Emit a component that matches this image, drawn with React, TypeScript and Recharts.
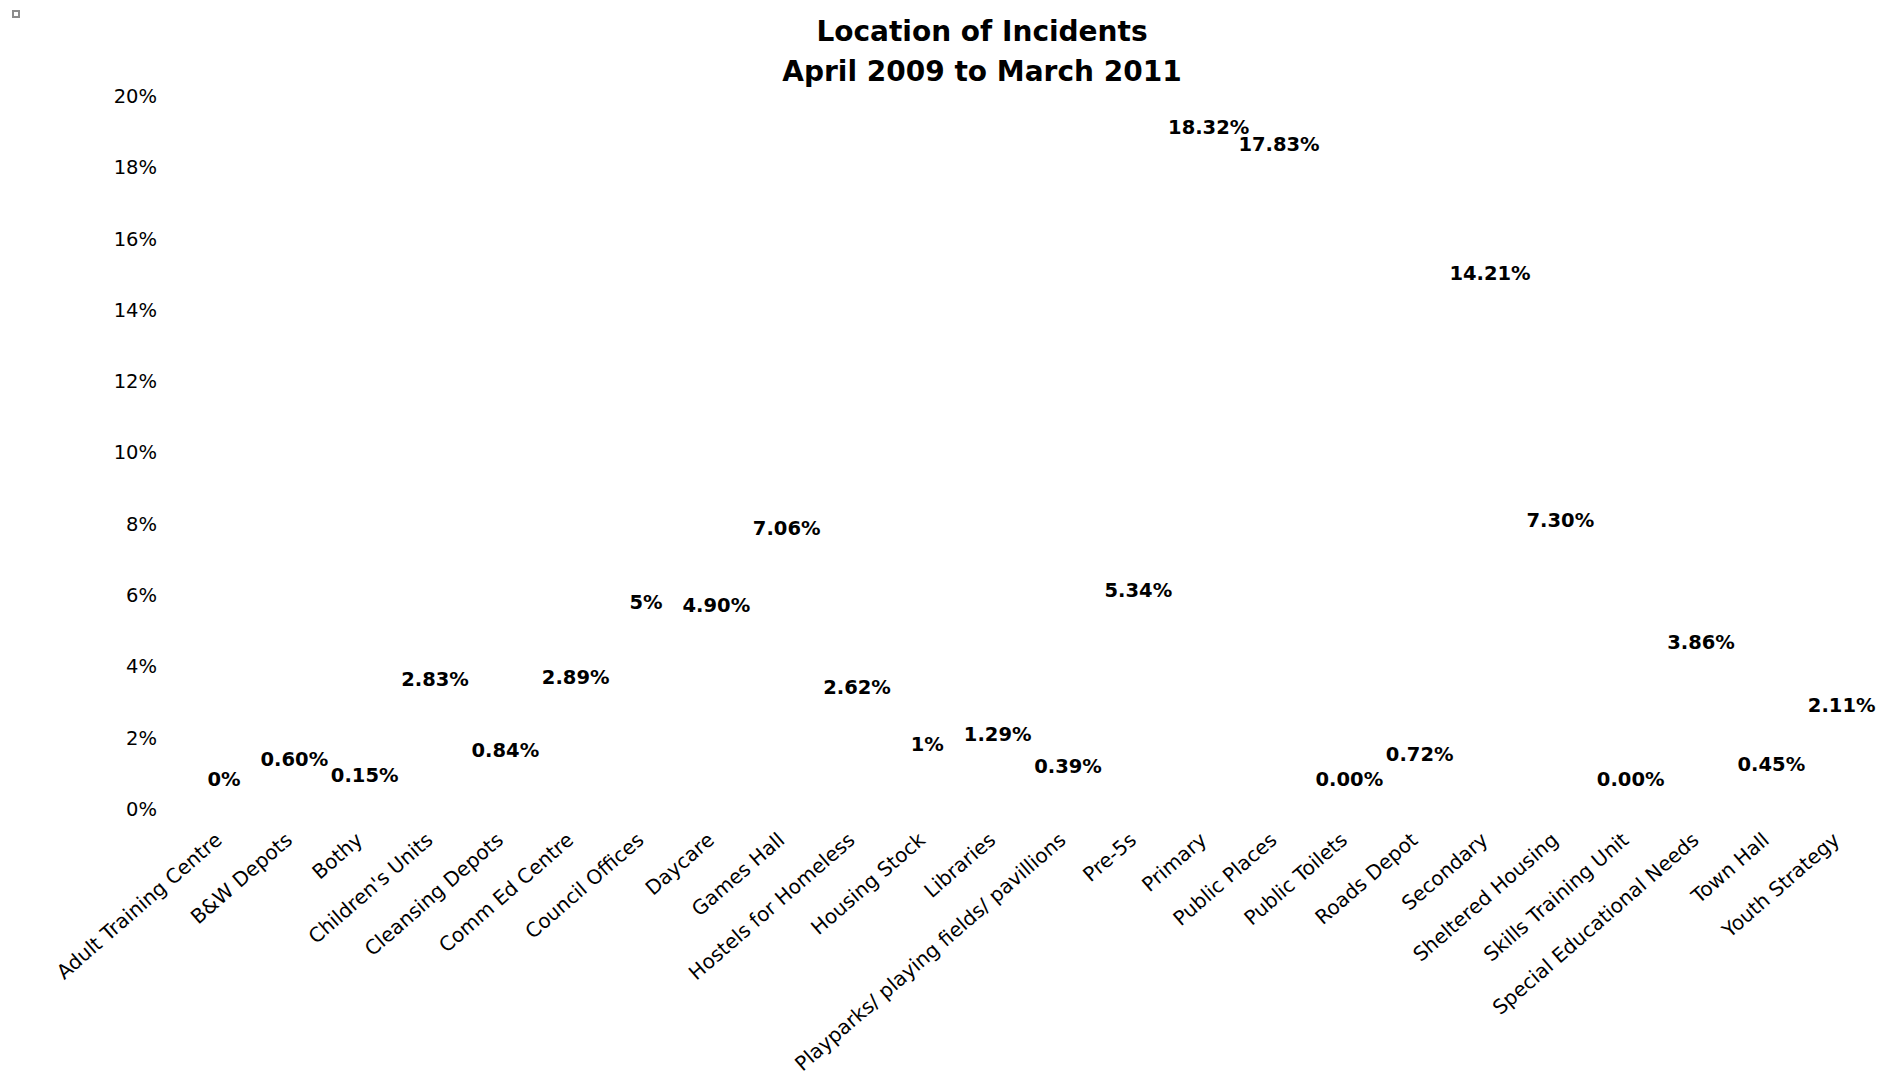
import React from "react"
import { BarChart, Bar, XAxis, YAxis, LabelList } from "recharts"

const categories = [
  "Adult Training Centre",
  "B&W Depots",
  "Bothy",
  "Children's Units",
  "Cleansing Depots",
  "Comm Ed Centre",
  "Council Offices",
  "Daycare",
  "Games Hall",
  "Hostels for Homeless",
  "Housing Stock",
  "Libraries",
  "Playparks/ playing fields/ pavillions",
  "Pre-5s",
  "Primary",
  "Public Places",
  "Public Toilets",
  "Roads Depot",
  "Secondary",
  "Sheltered Housing",
  "Skills Training Unit",
  "Special Educational  Needs",
  "Town Hall",
  "Youth Strategy",
]

// percent of incidents per location
const values = [
  0, 0.6, 0.15, 2.83, 0.84, 2.89, 5, 4.9, 7.06, 2.62, 1, 1.29, 0.39, 5.34, 18.32, 17.83, 0, 0.72, 14.21, 7.3, 0, 3.86,
  0.45, 2.11,
]

const valueLabels = [
  "0%", "0.60%", "0.15%", "2.83%", "0.84%", "2.89%", "5%", "4.90%", "7.06%", "2.62%", "1%", "1.29%", "0.39%",
  "5.34%", "18.32%", "17.83%", "0.00%", "0.72%", "14.21%", "7.30%", "0.00%", "3.86%", "0.45%", "2.11%",
]

const yTicks = [0, 2, 4, 6, 8, 10, 12, 14, 16, 18, 20]

const font = "'DejaVu Sans', sans-serif"

const data = categories.map((name, i) => ({ name, value: values[i], label: valueLabels[i] }))

function CategoryTick(props: any) {
  const { x, y, payload } = props
  return (
    <g transform={`translate(${x - 1},${y + 33})`}>
      <text x={0} y={0} textAnchor="end" transform="rotate(-41)" fill="#000" fontSize={20} fontFamily={font}>
        {payload.value}
      </text>
    </g>
  )
}

export default function App() {
  return (
    <div style={{ position: "absolute", left: 0, top: 0, width: 1897, height: 1074, background: "#fff" }}>
      <div
        style={{
          position: "absolute",
          left: 12,
          top: 10,
          width: 4,
          height: 4,
          border: "2px solid #8c8c8c",
          background: "#fff",
        }}
      />
      <div
        style={{
          position: "absolute",
          left: 482,
          top: 12,
          width: 1000,
          textAlign: "center",
          fontFamily: font,
          fontWeight: "bold",
          fontSize: 28,
          lineHeight: "40px",
          color: "#000",
        }}
      >
        <div>Location of Incidents</div>
        <div>April 2009 to March 2011</div>
      </div>
      <BarChart width={1897} height={1074} data={data} margin={{ top: 96, right: 20, bottom: 0, left: 89 }}>
        <XAxis
          dataKey="name"
          interval={0}
          axisLine={false}
          tickLine={false}
          tickSize={0}
          tickMargin={0}
          height={265}
          tick={<CategoryTick />}
        />
        <YAxis
          width={100}
          domain={[0, 20]}
          ticks={yTicks}
          tickFormatter={(v: number) => `${v}%`}
          axisLine={false}
          tickLine={false}
          tickSize={0}
          tickMargin={32}
          tick={{ fill: "#000", fontSize: 19.5, fontFamily: font }}
        />
        <Bar dataKey="value" fill="none" minPointSize={1} isAnimationActive={false}>
          <LabelList
            dataKey="label"
            position="top"
            offset={22}
            fill="#000"
            fontSize={19.5}
            fontWeight="bold"
            fontFamily={font}
          />
        </Bar>
      </BarChart>
    </div>
  )
}
